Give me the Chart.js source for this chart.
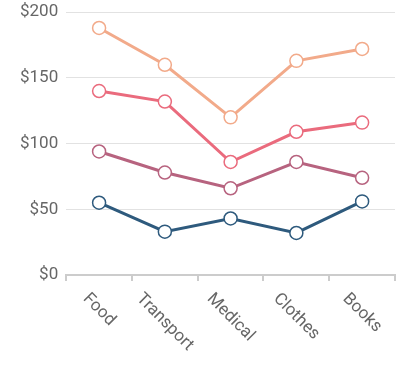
<!DOCTYPE html>
<html>
<head>
<meta charset="utf-8">
<script src="https://cdn.jsdelivr.net/npm/chart.js@4"></script>
<style>
  html, body { margin: 0; padding: 0; background: #fff; overflow: hidden; }
  #wrap { width: 405px; height: 382px; margin-top: -6px; }
</style>
</head>
<body>
<div id="wrap"><canvas id="spendChart"></canvas></div>
<script>
// categories and series
const categories = ['Food', 'Transport', 'Medical', 'Clothes', 'Books'];
const seriesTop = [188, 160, 120, 163, 172];
const seriesUpper = [140, 132, 86, 109, 116];
const seriesLower = [94, 78, 66, 86, 74];
const seriesBottom = [55, 33, 43, 32, 56];
const yTicks = [0, 50, 100, 150, 200];

const colors = ['#f2aa8a', '#ea6b7d', '#b7637f', '#2e5a7d'];

const makeSet = (data, color) => ({
  data: data,
  borderColor: color,
  backgroundColor: '#fff',
  borderWidth: 3,
  pointRadius: 6.5,
  pointBorderWidth: 1.5,
  pointBorderColor: color,
  pointBackgroundColor: '#fff',
  tension: 0,
});

// x labels slant down to the right, centred on each category
const slantLabels = {
  id: 'slantLabels',
  afterDraw(chart) {
    const scale = chart.scales.x;
    const ctx = chart.ctx;
    const top = scale.top + 17;
    ctx.save();
    ctx.font = '17px Roboto';
    ctx.fillStyle = '#666';
    ctx.textAlign = 'center';
    ctx.textBaseline = 'middle';
    categories.forEach((label, i) => {
      const x = scale.getPixelForTick(i);
      const w = ctx.measureText(label).width;
      const cy = top + Math.SQRT1_2 * (w / 2 + 6);
      ctx.save();
      ctx.translate(x, cy);
      ctx.rotate(Math.PI / 4);
      ctx.fillText(label, 0, 0);
      ctx.restore();
    });
    ctx.restore();
  },
};

new Chart(document.getElementById('spendChart').getContext('2d'), {
  type: 'line',
  data: {
    labels: categories,
    datasets: [
      makeSet(seriesTop, colors[0]),
      makeSet(seriesUpper, colors[1]),
      makeSet(seriesLower, colors[2]),
      makeSet(seriesBottom, colors[3]),
    ],
  },
  options: {
    responsive: true,
    maintainAspectRatio: false,
    animation: false,
    layout: { padding: { left: 12, right: 10, top: 0, bottom: 95 } },
    plugins: { legend: { display: false }, tooltip: { enabled: false } },
    scales: {
      x: {
        offset: true,
        grid: { offset: true, drawOnChartArea: false, drawTicks: true, tickLength: 6, color: '#ccc', lineWidth: 2 },
        border: { display: true, color: '#ccc', width: 2 },
        ticks: { display: false },
      },
      y: {
        min: 0,
        max: 200,
        afterBuildTicks: (axis) => { axis.ticks = yTicks.map((v) => ({ value: v })); },
        grid: { color: '#e2e2e2', drawTicks: false },
        border: { display: false },
        ticks: {
          padding: 8,
          color: '#666',
          font: { family: 'Roboto', size: 17 },
          callback: (v) => '$' + v,
        },
      },
    },
  },
  plugins: [slantLabels],
});
</script>
</body>
</html>
